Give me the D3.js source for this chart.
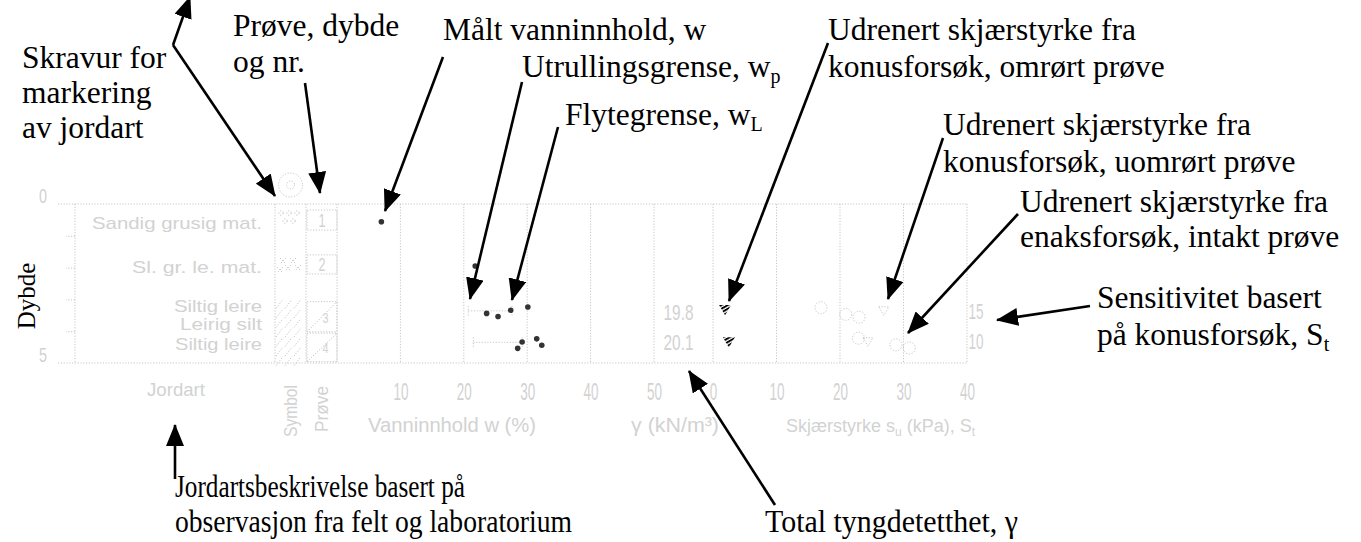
<!DOCTYPE html>
<html><head><meta charset="utf-8">
<script src="https://cdn.jsdelivr.net/npm/d3@7"></script>
<style>body{margin:0;background:#fff}svg{display:block}</style>
</head><body>
<script>
// ---------- data ----------
const depthTicks = [1, 2, 3, 4];
const depthLabels = [0, 5];
const wTicks = [10, 20, 30, 40, 50];
const wGrid = [0, 10, 20, 30, 40, 50];
const suTicks = [0, 10, 20, 30, 40];
const layerNames = ["Sandig grusig mat.", "Sl. gr. le. mat.", "Siltig leire", "Leirig silt", "Siltig leire"];
const layerDepths = [0.6, 1.98, 3.22, 3.76, 4.4];
const layerWidths = [170, 130, 88, 82, 87];
const sampleNr = ["1", "2", "3", "4"];
const sampleTop = [0.19, 1.6, 3.07, 4.06];
const sampleBottom = [0.82, 2.2, 4.02, 4.96];
const wDepth = [0.56, 1.95, 3.24, 3.34, 3.44, 3.54, 4.24, 4.34, 4.44, 4.54];
const wValue = [7.0, 21.8, 30.1, 27.4, 23.6, 25.4, 31.5, 29.2, 32.3, 28.5];
const limDepth = [3.36, 4.35];
const wpValue = [20.7, 21.5];
const wlValue = [27.6, 29.2];
const gammaDepth = [3.4, 4.35];
const gammaValue = ["19.8", "20.1"];
const coneRemDepth = [3.33, 4.34];
const coneRemSu = [1.9, 2.5];
const coneUndDepth = [3.36, 4.33];
const coneUndSu = [26.9, 24.4];
const uncDepth = [3.26, 3.47, 3.56, 4.22, 4.43, 4.53];
const uncSu = [17.0, 20.9, 23.0, 22.9, 28.8, 30.9];
const stDepth = [3.36, 4.3];
const stValue = ["15", "10"];

const W = 1361, H = 542;
const grey = "#d2d2d2", gline = "#c6c6c6";
const svg = d3.select("body").append("svg").attr("width", W).attr("height", H);
const defs = svg.append("defs");
defs.append("marker").attr("id", "ah").attr("viewBox", "0 0 22 18").attr("refX", 21).attr("refY", 9)
  .attr("markerWidth", 22).attr("markerHeight", 18).attr("markerUnits", "userSpaceOnUse")
  .attr("orient", "auto-start-reverse")
  .append("path").attr("d", "M0,0 L22,9 L0,18 Z").attr("fill", "#000");
const pat = defs.append("pattern").attr("id", "hatch").attr("patternUnits", "userSpaceOnUse")
  .attr("width", 3.2).attr("height", 3.2).attr("patternTransform", "rotate(60)");
pat.append("rect").attr("width", 1.9).attr("height", 3.2).attr("fill", "#000");

// ---------- scales ----------
const y = d3.scaleLinear().domain([0, 5]).range([204, 363]);
const xW = d3.scaleLinear().domain([0, 50]).range([337, 654]);
const xS = d3.scaleLinear().domain([0, 40]).range([713, 967]);
const xL = 58, xFrameL = 75, xSym0 = 275, xSym1 = 306, xPr1 = 337;
const gammaX = (xW(50) + xS(0)) / 2;

const g = svg.append("g");
const dotted = sel => sel.attr("stroke", gline).attr("stroke-width", 1).attr("stroke-dasharray", "1.2,1.6").attr("fill", "none");

// frame
g.append("line").attr("x1", xL).attr("x2", xS(40)).attr("y1", y(0)).attr("y2", y(0)).call(dotted);
g.append("line").attr("x1", xL).attr("x2", xS(40)).attr("y1", y(5)).attr("y2", y(5)).call(dotted);
[xFrameL, xSym0, xSym1].forEach(x => g.append("line").attr("x1", x).attr("x2", x).attr("y1", y(0)).attr("y2", y(5)).call(dotted));
wGrid.forEach(v => g.append("line").attr("x1", xW(v)).attr("x2", xW(v)).attr("y1", y(0)).attr("y2", y(5)).call(dotted));
suTicks.forEach(v => g.append("line").attr("x1", xS(v)).attr("x2", xS(v)).attr("y1", y(0)).attr("y2", y(5)).call(dotted));

// depth axis
const dAx = g.append("g").attr("transform", `translate(${xFrameL},0)`)
  .call(d3.axisLeft(y).tickValues(depthTicks).tickSize(9).tickFormat(""));
dAx.select(".domain").remove();
dAx.selectAll("line").call(dotted);
depthLabels.forEach(d => g.append("text").attr("x", 43).attr("y", y(d) - 1).attr("text-anchor", "middle")
  .attr("font-family", "Liberation Sans").attr("font-size", 21).attr("fill", grey).attr("textLength", 8)
  .attr("lengthAdjust", "spacingAndGlyphs").text(d));

// grey text helper
function gtext(x, yy, s, size, len, anchor) {
  const t = g.append("text").attr("x", x).attr("y", yy).attr("text-anchor", anchor || "middle")
    .attr("font-family", "Liberation Sans").attr("font-size", size).attr("fill", grey).text(s);
  if (len) t.attr("textLength", len).attr("lengthAdjust", "spacingAndGlyphs");
  return t;
}

// bottom axes
function bottomAxis(scale, ticks) {
  const a = g.append("g").attr("transform", `translate(0,${y(5)})`)
    .call(d3.axisBottom(scale).tickValues(ticks).tickSize(0).tickPadding(21));
  a.select(".domain").remove();
  a.selectAll("text").attr("font-family", "Liberation Sans").attr("font-size", 23).attr("fill", grey)
    .attr("textLength", d => String(d).length * 7.5).attr("lengthAdjust", "spacingAndGlyphs");
}
bottomAxis(xW, wTicks);
bottomAxis(xS, suTicks);

// layer descriptions
layerNames.forEach((n, i) => gtext(262, y(layerDepths[i]) + 6, n, 17, layerWidths[i], "end"));

// column header circle
g.append("circle").attr("cx", (xSym0 + xSym1) / 2).attr("cy", 185).attr("r", 12).call(dotted);
g.append("circle").attr("cx", (xSym0 + xSym1) / 2).attr("cy", 185).attr("r", 4).call(dotted);

// symbol hatching
const symG = g.append("g");
[[281, 213], [289, 213], [297, 213], [285, 221], [293, 221]].forEach(p =>
  symG.append("circle").attr("cx", p[0]).attr("cy", p[1]).attr("r", 2.2).call(dotted));
[[283, 261], [293, 261], [288, 268], [298, 268], [280, 270]].forEach(p =>
  symG.append("path").attr("d", `M${p[0] - 3},${p[1] - 3}L${p[0] + 3},${p[1] + 3}M${p[0] + 3},${p[1] - 3}L${p[0] - 3},${p[1] + 3}`).call(dotted));
d3.range(3.0, 5.0, 0.3).forEach(d => {
  [280, 289, 298].forEach(x => symG.append("line").attr("x1", x - 4).attr("x2", x + 3).attr("y1", y(d) + 9).attr("y2", y(d)).call(dotted));
});

// sample boxes
sampleNr.forEach((n, i) => {
  const x0 = xSym1 + 1, x1 = xPr1, y0 = y(sampleTop[i]), y1 = y(sampleBottom[i]);
  g.append("rect").attr("x", x0).attr("y", y0).attr("width", x1 - x0).attr("height", y1 - y0).call(dotted);
  if (i >= 2) {
    g.append("line").attr("x1", x0).attr("y1", y1).attr("x2", x1).attr("y2", y0).call(dotted);
    gtext(x0 + (x1 - x0) * 0.62, (y0 + y1) / 2 + 6, n, 15, 6);
  } else gtext((x0 + x1) / 2, (y0 + y1) / 2 + 7, n, 19, 7);
});

// bottom titles
gtext(176, 396, "Jordart", 19, 58);
g.append("text").attr("transform", `translate(${(xSym0 + xSym1) / 2 + 6},411) rotate(-90)`).attr("text-anchor", "middle")
  .attr("font-family", "Liberation Sans").attr("font-size", 19).attr("fill", grey).attr("textLength", 52)
  .attr("lengthAdjust", "spacingAndGlyphs").text("Symbol");
g.append("text").attr("transform", `translate(${(xSym1 + xPr1) / 2 + 6},409) rotate(-90)`).attr("text-anchor", "middle")
  .attr("font-family", "Liberation Sans").attr("font-size", 19).attr("fill", grey).attr("textLength", 46)
  .attr("lengthAdjust", "spacingAndGlyphs").text("Prøve");
gtext(452, 432, "Vanninnhold w (%)", 21, 168);
gtext(675, 432, "γ (kN/m³)", 21, 88);
const sk = g.append("text").attr("x", 786).attr("y", 432).attr("font-family", "Liberation Sans").attr("font-size", 18).attr("fill", grey);
sk.append("tspan").text("Skjærstyrke s");
sk.append("tspan").attr("font-size", 12).attr("dy", 4).text("u");
sk.append("tspan").attr("dy", -4).text(" (kPa), S");
sk.append("tspan").attr("font-size", 12).attr("dy", 4).text("t");

// gamma and St values
gammaValue.forEach((v, i) => gtext(gammaX - 5, y(gammaDepth[i]) + 8, v, 22, 30));
stValue.forEach((v, i) => gtext(xS(40) + 9, y(stDepth[i]) + 8, v, 22, 15));

// liquid/plastic limit lines
limDepth.forEach((d, i) => {
  g.append("line").attr("x1", xW(wpValue[i])).attr("x2", xW(wlValue[i])).attr("y1", y(d)).attr("y2", y(d)).call(dotted);
  g.append("line").attr("x1", xW(wpValue[i])).attr("x2", xW(wpValue[i])).attr("y1", y(d) - 5).attr("y2", y(d) + 5).call(dotted);
  g.append("line").attr("x1", xW(wlValue[i])).attr("x2", xW(wlValue[i])).attr("y1", y(d) - 5).attr("y2", y(d) + 5).call(dotted);
});
// water content points
wValue.forEach((v, i) => g.append("circle").attr("cx", xW(v)).attr("cy", y(wDepth[i])).attr("r", 2.8).attr("fill", "#333"));

// shear strength
const tri = (cx, cy, s) => `M${cx - s},${cy - s * 0.8}L${cx + s},${cy - s * 0.8}L${cx},${cy + s * 0.9}Z`;
coneRemSu.forEach((v, i) => g.append("path").attr("d", tri(xS(v), y(coneRemDepth[i]), 6)).attr("fill", "url(#hatch)"));
coneUndSu.forEach((v, i) => g.append("path").attr("d", tri(xS(v), y(coneUndDepth[i]), 5)).call(dotted));
uncSu.forEach((v, i) => g.append("circle").attr("cx", xS(v)).attr("cy", y(uncDepth[i])).attr("r", 6).call(dotted));

// ---------- annotations ----------
const ann = svg.append("g").attr("font-family", "Liberation Serif").attr("font-size", 31.5).attr("fill", "#000");
function atext(x, yy, parts, len) {
  const t = ann.append("text").attr("x", x).attr("y", yy);
  parts.forEach((p, k) => {
    if (k % 2 === 0) t.append("tspan").attr("dy", k ? -6 : 0).text(p);
    else t.append("tspan").attr("font-size", 20).attr("dy", 6).text(p);
  });
  if (len) t.attr("textLength", len).attr("lengthAdjust", "spacingAndGlyphs");
}
atext(22, 68, ["Skravur for"]); atext(22, 103, ["markering"]); atext(22, 138, ["av jordart"]);
atext(233, 36, ["Prøve, dybde"]); atext(233, 72, ["og nr."]);
atext(443, 40, ["Målt vanninnhold, w"]);
atext(522, 77, ["Utrullingsgrense, w", "p"]);
atext(565, 125, ["Flytegrense, w", "L"]);
atext(828, 40, ["Udrenert skjærstyrke fra"]); atext(828, 77, ["konusforsøk, omrørt prøve"]);
atext(943, 135, ["Udrenert skjærstyrke fra"]); atext(943, 172, ["konusforsøk, uomrørt prøve"]);
atext(1020, 212, ["Udrenert skjærstyrke fra"]); atext(1020, 247, ["enaksforsøk, intakt prøve"]);
atext(1097, 308, ["Sensitivitet basert"]); atext(1097, 345, ["på konusforsøk, S", "t"]);
atext(175, 497, ["Jordartsbeskrivelse basert på"], 290);
atext(175, 532, ["observasjon fra felt og laboratorium"], 397);
atext(765, 532, ["Total tyngdetetthet, γ"], 253);

// axis label Dybde
svg.append("text").attr("transform", "translate(35,296) rotate(-90)").attr("text-anchor", "middle")
  .attr("font-family", "Liberation Serif").attr("font-size", 25).attr("fill", "#000").text("Dybde");

const arrows = [
  [[173, 45], [190, -3]],
  [[173, 45], [275, 196]],
  [[305, 83], [320, 193]],
  [[443, 57], [385, 211]],
  [[522, 82], [470, 299]],
  [[558, 127], [512, 300]],
  [[828, 43], [729, 301]],
  [[943, 138], [888, 299]],
  [[1018, 214], [908, 333]],
  [[1090, 306], [997, 320]],
  [[175, 479], [175, 425]],
  [[775, 505], [689, 371]]
];
arrows.forEach(a => ann.append("path").attr("d", d3.line()(a)).attr("stroke", "#000").attr("stroke-width", 2.6)
  .attr("fill", "none").attr("marker-end", "url(#ah)"));
</script>
</body></html>
